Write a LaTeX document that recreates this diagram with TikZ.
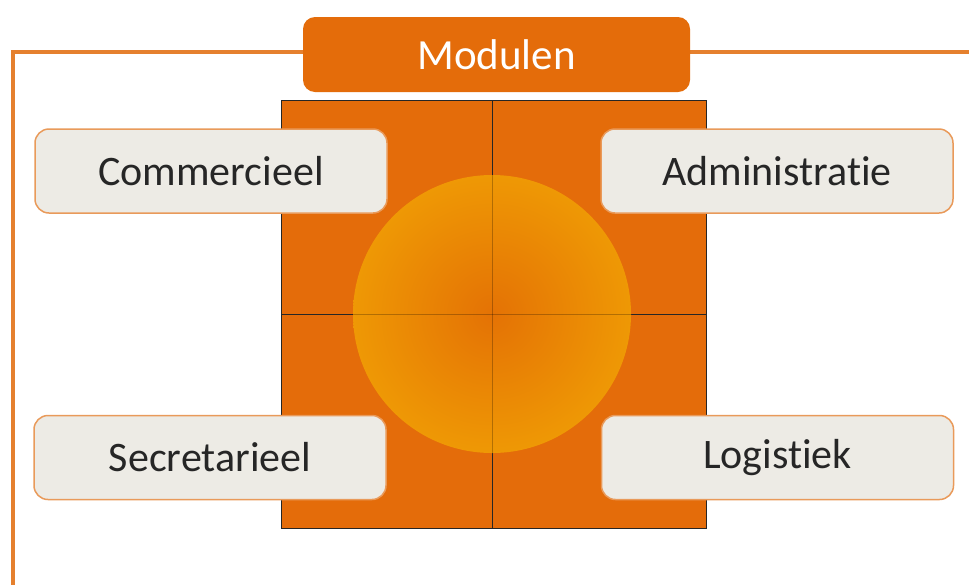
\documentclass[tikz,border=0pt]{standalone}
\usepackage{fontspec}
\setmainfont{Carlito}[Ligatures={NoCommon,NoRare,NoContextual}]
\definecolor{frameor}{HTML}{E5802E}
\definecolor{modor}{HTML}{E46C0A}
\definecolor{quador}{HTML}{E46C0A}
\definecolor{sunin}{HTML}{E47205}
\definecolor{sunout}{HTML}{F3A805}
\definecolor{boxfill}{HTML}{EDEBE5}
\definecolor{boxline}{HTML}{E99A5A}
\definecolor{txt}{HTML}{262626}
\newcommand{\nolig}{\kern0pt\relax}
\pgfdeclareradialshading{sunshade}{\pgfpoint{0bp}{0bp}}{color(0bp)=(sunin); color(30bp)=(sunout!85!sunin); color(50bp)=(sunout)}
\begin{document}
\begin{tikzpicture}[x=1pt,y=-1pt,
  frameline/.style={draw=frameor,line width=3.5pt},
  modbox/.style={fill=modor,draw=none,rounded corners=12pt,text=white,font=\fontsize{43}{48}\selectfont,minimum width=387pt,minimum height=75pt,inner sep=0pt},
  quad/.style={fill=quador,draw=black!85,line width=1pt},
  labelbox/.style={fill=boxfill,draw=boxline,line width=1.5pt,rounded corners=14pt,text=txt,font=\fontsize{42}{46}\selectfont,minimum width=352pt,minimum height=84pt,inner sep=0pt}
]
\useasboundingbox (0,0) rectangle (969,584);
\fill[white] (0,0) rectangle (969,584);
% outer frame
\draw[frameline] (975,52) -- (13,52) -- (13,590);
% module title
\node[modbox] (mod) at (496.5,54.5) {Modulen};
% quadrants
\draw[quad] (281,100) rectangle (492,314);
\draw[quad] (492,100) rectangle (706,314);
\draw[quad] (281,314) rectangle (492,528);
\draw[quad] (492,314) rectangle (706,528);
% sun circle
\node[circle,minimum size=278pt,inner sep=0pt,shading=sunshade] (sun) at (492,314) {};
\draw[black,opacity=0.25,line width=0.8pt] (sun.north) -- (sun.south);
\draw[black,opacity=0.25,line width=0.8pt] (sun.west) -- (sun.east);
% labels
\node[labelbox] (com) at (211,171) {Commercieel};
\node[labelbox] (adm) at (777,171) {Administrat\nolig ie};
\node[labelbox] (sec) at (210,457.5) {Secretarieel};
\node[labelbox] (log) at (777.5,457.5) {Logist\nolig iek};
\end{tikzpicture}
\end{document}
